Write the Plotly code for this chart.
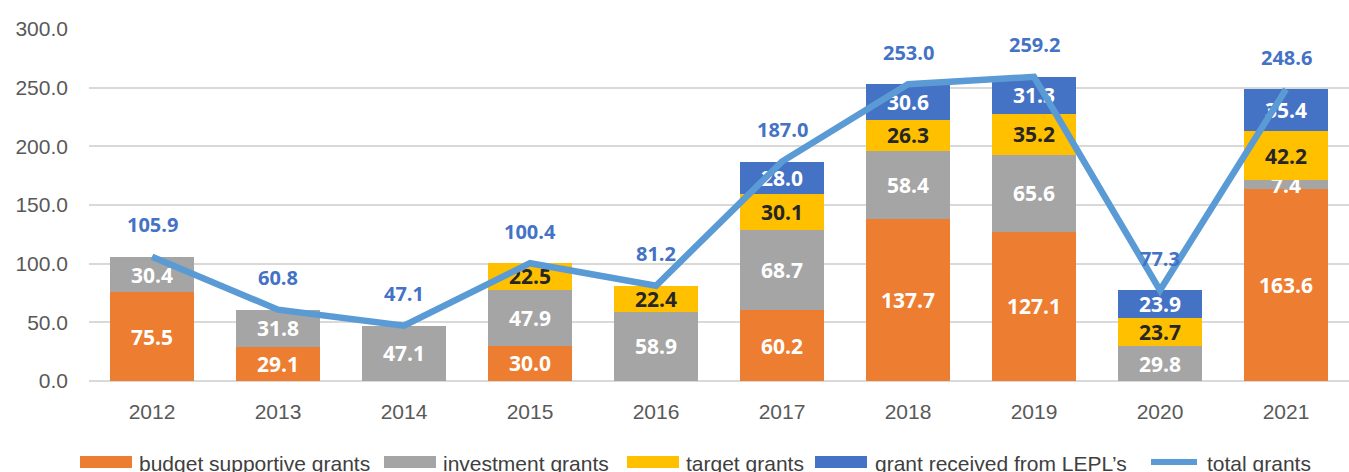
import plotly.graph_objects as go

years = ["2012", "2013", "2014", "2015", "2016", "2017", "2018", "2019", "2020", "2021"]
budget_supportive = [75.5, 29.1, None, 30.0, None, 60.2, 137.7, 127.1, None, 163.6]
investment = [30.4, 31.8, 47.1, 47.9, 58.9, 68.7, 58.4, 65.6, 29.8, 7.4]
target = [None, None, None, 22.5, 22.4, 30.1, 26.3, 35.2, 23.7, 42.2]
lepl = [None, None, None, None, None, 28.0, 30.6, 31.3, 23.9, 35.4]
total = [105.9, 60.8, 47.1, 100.4, 81.2, 187.0, 253.0, 259.2, 77.3, 248.6]
series_names = ["budget supportive grants", "investment grants", "target grants",
                "grant received from LEPL\u2019s", "total grants"]
y_ticks = [0, 50, 100, 150, 200, 250, 300]

colors = ["#ED7D31", "#A5A5A5", "#FFC000", "#4472C4", "#5B9BD5"]
label_colors = ["white", "white", "#262626", "white"]
LABEL_FONT = "Open Sans, Lato, sans-serif"
TICK_FONT = "Liberation Sans, Arial, sans-serif"

fig = go.Figure()
for name, vals, col, lc in zip(series_names[:4], [budget_supportive, investment, target, lepl],
                               colors[:4], label_colors):
    fig.add_trace(go.Bar(
        x=years, y=vals, name=name, marker=dict(color=col, line=dict(width=0)),
        text=[None if v is None else f"{v:.1f}" for v in vals],
        textposition="inside", insidetextanchor="middle", constraintext="none",
        textangle=0,
        textfont=dict(family=LABEL_FONT, size=21, color=lc, weight="bold"),
        showlegend=False, hoverinfo="skip",
    ))

fig.add_trace(go.Scatter(
    x=years, y=total, name=series_names[4], mode="lines",
    line=dict(color=colors[4], width=6.5), showlegend=False, hoverinfo="skip",
))

for i, t in enumerate(total):
    fig.add_annotation(x=i, y=t, text=f"{t:.1f}", showarrow=False, yshift=32,
                       font=dict(family=LABEL_FONT, size=20, color="#4472C4", weight="bold"))

# custom legend (pixel positions converted to paper coords)
L, R, T, B, W = 89, 0, 29, 91, 1349
PW, PH = W - L - R, 472 - T - B
def px_x(p):
    return (p - L) / PW
def px_y(p):
    return (472 - B - p) / PH

leg_y = 462
items = [(80, 132, 137), (384, 436, 441), (627, 679, 684), (815, 867, 873), (1148, 1200, 1205)]
for i, (x0, x1, tx) in enumerate(items):
    if i < 4:
        fig.add_shape(type="rect", xref="paper", yref="paper",
                      x0=px_x(x0), x1=px_x(x1), y0=px_y(leg_y + 6), y1=px_y(leg_y - 6),
                      fillcolor=colors[i], line=dict(width=0))
    else:
        fig.add_shape(type="line", xref="paper", yref="paper",
                      x0=px_x(x0 + 3), x1=px_x(x1 - 3), y0=px_y(leg_y), y1=px_y(leg_y),
                      line=dict(color=colors[4], width=6))
    fig.add_annotation(xref="paper", yref="paper", x=px_x(tx), y=px_y(leg_y + 1),
                       text=series_names[i], showarrow=False, xanchor="left", yanchor="middle",
                       font=dict(family=TICK_FONT, size=21, color="#404040"))

fig.update_layout(
    barmode="stack", bargap=0.335,
    width=W, height=472,
    margin=dict(l=L, r=R, t=T, b=B),
    plot_bgcolor="white", paper_bgcolor="white",
    xaxis=dict(type="category", range=[-0.5, 9.5], showgrid=False, showline=False,
               zeroline=False, ticks="", ticklabelstandoff=16,
               tickfont=dict(family=TICK_FONT, size=21, color="#595959")),
    yaxis=dict(range=[0, 300], tickvals=y_ticks, tickformat=".1f",
               showgrid=True, gridcolor="#D9D9D9", gridwidth=1.5,
               zeroline=True, zerolinecolor="#D9D9D9", zerolinewidth=1.5,
               showline=False, ticks="", ticklabelstandoff=20,
               tickfont=dict(family=TICK_FONT, size=21, color="#595959")),
    showlegend=False,
)

fig.write_html("out.html", config={"displayModeBar": False},
               post_script="document.body.style.margin='0';")
